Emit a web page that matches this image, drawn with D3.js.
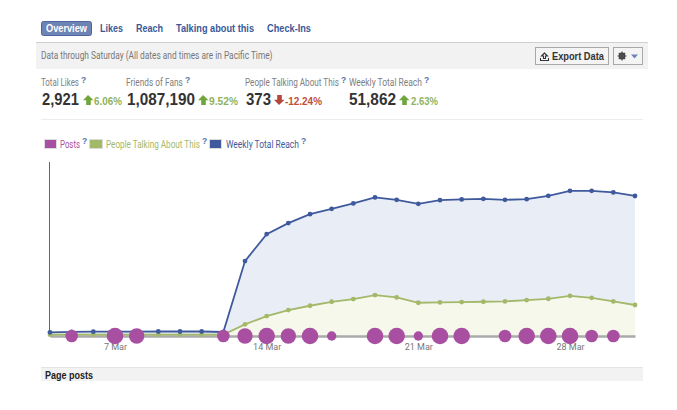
<!DOCTYPE html>
<html>
<head>
    <title>Page Insights Overview</title>
    <script src="https://d3js.org/d3.v7.min.js"></script>
    <style>
        html, body { margin: 0; padding: 0; background: #fff; overflow: hidden; }
        text { font-family: Roboto, sans-serif; }
        text.strong { font-family: "Liberation Sans", sans-serif; }
    </style>
</head>
<body>
    <div id="chart"></div>

    <script>
        // values
        const days = d3.range(4, 32);
        const reach = [1370, 1520, 1590, 1630, 1630, 1665, 1665, 1665, 1480, 27750, 37740, 41810, 45140, 47100,
            49100, 51320, 50430, 48950, 50320, 50580, 50800, 50430, 50690, 51910, 53760, 53760, 53170, 51862];
        const talking = [16, 16, 16, 16, 16, 16, 16, 16, 16, 140, 240, 312, 364, 412,
            444, 492, 464, 400, 404, 408, 412, 416, 432, 448, 484, 460, 416, 373];
        // posts per day, 0 = no bubble
        const posts = [0, 2, 0, 4, 3, 0, 0, 0, 2, 3, 4, 3, 4, 1,
            0, 4, 4, 1, 4, 4, 0, 2, 4, 4, 4, 2, 2, 0];
        const tickDays = [7, 14, 21, 28];

        const navItems = ["Likes", "Reach", "Talking about this", "Check-Ins"];
        const navX = [100, 136, 176, 267];
        const navW = [23, 27, 78, 44];
        const statNames = ["Total Likes", "Friends of Fans", "People Talking About This", "Weekly Total Reach"];
        const statValues = ["2,921", "1,087,190", "373", "51,862"];
        const statChanges = ["6.06%", "9.52%", "-12.24%", "2.63%"];

        const blue = "#3f5a9c", green = "#a4b86a", purple = "#a94fa1";

        const svg = d3.select("#chart").append("svg")
            .attr("width", 677)
            .attr("height", 410)
            .style("display", "block");

        // text scaled sideways to the measured width
        function label(x, y, str, w, size, color, bold) {
            const t = svg.append("text")
                .attr("class", bold ? "strong" : null)
                .attr("font-size", size)
                .attr("font-weight", bold ? "bold" : "normal")
                .attr("fill", color)
                .text(str);
            const natural = t.node().getComputedTextLength();
            t.attr("transform", "translate(" + x + "," + y + ") scale(" + (w / natural) + ",1)");
            return t;
        }

        function help(x, y) {
            svg.append("text")
                .attr("class", "strong")
                .attr("x", x)
                .attr("y", y)
                .attr("font-size", 8.5)
                .attr("font-weight", "bold")
                .attr("fill", "#5a73a8")
                .text("?");
        }

        function arrow(x, y, color, down) {
            const p = "M5 0L10.5 5.2L7.8 5.2L7.8 10L3.2 10L3.2 5.2L0 5.2Z";
            svg.append("path")
                .attr("d", p)
                .attr("fill", color)
                .attr("transform", down
                    ? "translate(" + x + "," + (y + 10) + ") scale(1,-1)"
                    : "translate(" + x + "," + y + ")");
        }

        // tabs
        svg.append("rect").attr("x", 41.5).attr("y", 21.5).attr("width", 50).attr("height", 14).attr("rx", 2)
            .attr("fill", "#6d84b4").attr("stroke", "#4d659c");
        label(46, 32, "Overview", 41, 10, "#fff", true);
        navItems.forEach((d, i) => label(navX[i], 32, d, navW[i], 10, "#3b5998", true));

        // grey bar
        svg.append("rect").attr("x", 36).attr("y", 42).attr("width", 612).attr("height", 27).attr("fill", "#f2f2f2");
        svg.append("rect").attr("x", 36).attr("y", 42).attr("width", 612).attr("height", 1).attr("fill", "#d0d0d0");
        label(41, 59, "Data through Saturday (All dates and times are in Pacific Time)", 232, 10, "#777");

        svg.append("rect").attr("x", 535.5).attr("y", 47.5).attr("width", 73).attr("height", 17)
            .attr("fill", "#f4f4f4").attr("stroke", "#a8a8a8");
        svg.append("path").attr("d", "M544.5 53L541.5 56L543.5 56L543.5 58.5L545.5 58.5L545.5 56L547.5 56ZM540.5 58L540.5 60.5L548.5 60.5L548.5 58")
            .attr("fill", "none").attr("stroke", "#333").attr("stroke-width", 1.1);
        label(552, 60, "Export Data", 52, 10, "#333", true);
        svg.append("rect").attr("x", 613.5).attr("y", 47.5).attr("width", 29).attr("height", 17)
            .attr("fill", "#f4f4f4").attr("stroke", "#a8a8a8");
        // gear
        svg.append("circle").attr("cx", 622).attr("cy", 56).attr("r", 2.6)
            .attr("fill", "none").attr("stroke", "#444").attr("stroke-width", 1.6);
        svg.append("path")
            .attr("d", "M622 51.5V60.5M617.5 56H626.5M618.8 52.8L625.2 59.2M625.2 52.8L618.8 59.2")
            .attr("stroke", "#444").attr("stroke-width", 1.2);
        svg.append("path").attr("d", "M631 54.5L638 54.5L634.5 58.5Z").attr("fill", "#6d84b4");

        // stats row
        const statLabelX = [41, 126, 245, 349], statLabelW = [38, 57, 94, 73];
        const statValueX = [42, 127, 246, 349], statValueW = [37, 68, 25, 47];
        const arrowX = [83, 198, 274, 399];
        const changeX = [94, 209, 285, 411], changeW = [28, 29, 37, 27];
        statNames.forEach((d, i) => {
            label(statLabelX[i], 86, d, statLabelW[i], 10, "#808080");
            help(statLabelX[i] + statLabelW[i] + 2, 83);
            label(statValueX[i], 105, statValues[i], statValueW[i], 16.5, "#333", true);
            const isDown = statChanges[i][0] === "-";
            const col = isDown ? "#c0503c" : "#8fb25f";
            arrow(arrowX[i], 95, isDown ? "#b5473a" : "#6fa63c", isDown);
            label(changeX[i], 105, statChanges[i], changeW[i], 10, col, true);
        });
        svg.append("rect").attr("x", 41).attr("y", 119).attr("width", 602).attr("height", 1).attr("fill", "#ececec");

        // legend
        const legendX = [44, 89, 209], legendW = [13, 14, 13];
        const legendColor = [purple, green, blue];
        const legendLabels = ["Posts", "People Talking About This", "Weekly Total Reach"];
        const legendLabelX = [60, 106, 226], legendLabelW = [20, 94, 73];
        legendLabels.forEach((d, i) => {
            svg.append("rect")
                .attr("x", legendX[i] + 0.5).attr("y", 139.5)
                .attr("width", legendW[i] - 1).attr("height", 9)
                .attr("fill", legendColor[i])
                .attr("stroke", "#dcdcdc");
            label(legendLabelX[i], 148, d, legendLabelW[i], 10, legendColor[i]);
            help(legendLabelX[i] + legendLabelW[i] + 2, 144);
        });

        // chart
        const xScale = d3.scaleLinear().domain([4, 31]).range([50, 635]);
        const baseY = 336, topY = 162;
        const yReach = d3.scaleLinear().domain([0, 64450]).range([baseY, topY]);
        const yTalking = d3.scaleLinear().domain([0, 2094]).range([baseY, topY]);
        const rScale = d3.scaleLinear().domain([1, 2, 3, 4]).range([4.7, 6.3, 7.7, 8.3]);

        const reachRows = days.map((d, i) => ({ day: d, value: reach[i] }));
        const talkingRows = days.map((d, i) => ({ day: d, value: talking[i] }));
        const postRows = days.map((d, i) => ({ day: d, value: posts[i] })).filter(d => d.value > 0);

        function drawSeries(rows, yScale, color, fill) {
            svg.append("path")
                .datum(rows)
                .attr("fill", fill)
                .attr("d", d3.area().x(d => xScale(d.day)).y0(baseY).y1(d => yScale(d.value)));
            return function () {
                svg.append("path")
                    .datum(rows)
                    .attr("fill", "none")
                    .attr("stroke", color)
                    .attr("stroke-width", 1.8)
                    .attr("d", d3.line().x(d => xScale(d.day)).y(d => yScale(d.value)));
                svg.append("g").selectAll("circle")
                    .data(rows)
                    .enter()
                    .append("circle")
                    .attr("cx", d => xScale(d.day))
                    .attr("cy", d => yScale(d.value))
                    .attr("r", 2.4)
                    .attr("fill", color);
            };
        }

        const drawReach = drawSeries(reachRows, yReach, blue, "#e9edf5");
        const drawTalking = drawSeries(talkingRows, yTalking, green, "#f6f8ec");

        svg.append("line").attr("x1", 49.5).attr("x2", 49.5).attr("y1", topY).attr("y2", baseY)
            .attr("stroke", "#666").attr("stroke-width", 1);

        const xAxis = svg.append("g")
            .attr("transform", "translate(0," + baseY + ")")
            .call(d3.axisBottom(xScale).tickValues(tickDays).tickSize(0).tickPadding(8).tickFormat(d => d + " Mar"));
        xAxis.select(".domain").attr("stroke", "#aaa").attr("stroke-width", 2.4);
        xAxis.selectAll("text").attr("font-size", 9).attr("fill", "#777").style("font-family", "Roboto, sans-serif");

        drawTalking();
        drawReach();

        svg.append("g").selectAll("circle")
            .data(postRows)
            .enter()
            .append("circle")
            .attr("cx", d => xScale(d.day))
            .attr("cy", baseY)
            .attr("r", d => rScale(d.value))
            .attr("fill", purple);

        // next section header
        svg.append("rect").attr("x", 41).attr("y", 367).attr("width", 602).attr("height", 14).attr("fill", "#f2f2f2");
        svg.append("rect").attr("x", 41).attr("y", 367).attr("width", 602).attr("height", 1).attr("fill", "#e4e4e4");
        label(45, 379, "Page posts", 48, 10, "#222", true);
    </script>
</body>
</html>
